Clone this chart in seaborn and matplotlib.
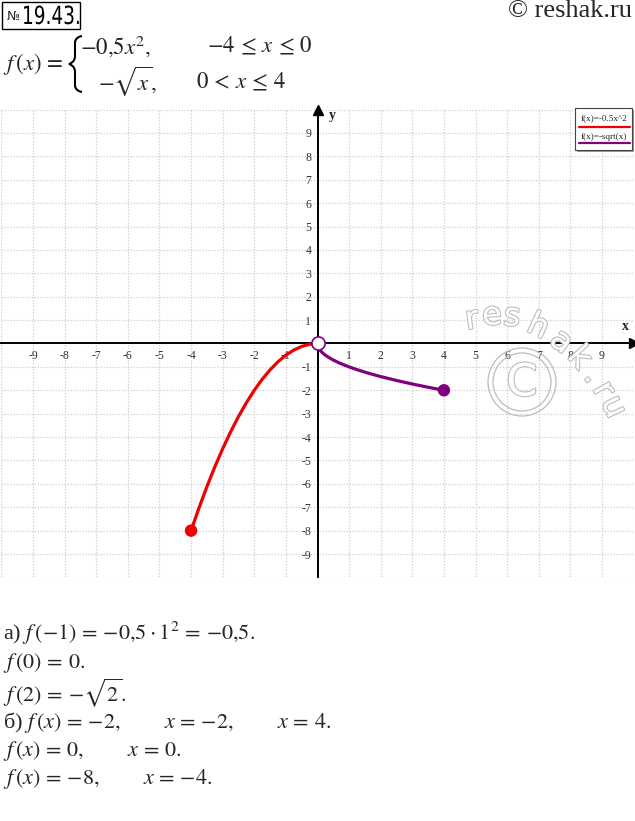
import numpy as np
import pandas as pd
import matplotlib
matplotlib.use("Agg")
import matplotlib.pyplot as plt
import matplotlib.patheffects as pe
from matplotlib.patches import Rectangle, Circle, PathPatch
from matplotlib.path import Path
from matplotlib.textpath import TextPath
from matplotlib.font_manager import FontProperties
from matplotlib.transforms import Affine2D, IdentityTransform
import seaborn as sns

# ---- data ----
x_left = [-4.0, -3.75, -3.5, -3.25, -3.0, -2.75, -2.5, -2.25, -2.0, -1.75, -1.5,
          -1.25, -1.0, -0.75, -0.5, -0.25, 0.0]
y_left = [-8.0, -7.031, -6.125, -5.281, -4.5, -3.781, -3.125, -2.531, -2.0, -1.531,
          -1.125, -0.781, -0.5, -0.281, -0.125, -0.031, 0.0]
x_right = [0.0, 0.01, 0.03, 0.06, 0.1, 0.15, 0.2, 0.3, 0.4, 0.5, 0.65, 0.8, 1.0,
           1.25, 1.5, 1.75, 2.0, 2.5, 3.0, 3.5, 4.0]
y_right = [0.0, -0.1, -0.173, -0.245, -0.316, -0.387, -0.447, -0.548, -0.632, -0.707,
           -0.806, -0.894, -1.0, -1.118, -1.225, -1.323, -1.414, -1.581, -1.732,
           -1.871, -2.0]
end_x = [-4, 4]
end_y = [-8, -2]
end_group = ["left", "right"]
open_x = [0]
open_y = [0]
ticks = [-9, -8, -7, -6, -5, -4, -3, -2, -1, 1, 2, 3, 4, 5, 6, 7, 8, 9]
legend_labels = ["f(x)=-0.5x^2", "f(x)=-sqrt(x)"]

RED = "#f00000"
PURPLE = "#800080"

sns.set_style("white")
plt.rcParams["mathtext.fontset"] = "stix"
plt.rcParams["font.family"] = ["Liberation Serif", "DejaVu Serif"]

W, H = 635, 821
fig = plt.figure(figsize=(W / 100, H / 100), dpi=100)

def fx(px):
    return px / W

def fy(py):
    return 1 - py / H

ax = fig.add_axes([1.4 / W, 1 - 577.4 / H, 632.2 / W, 467.8 / H])
ax.set_xlim(-10, 10)
ax.set_ylim(-10, 10)
ax.set_facecolor("white")

# grid
for t in range(-10, 11):
    ax.axvline(t, color="#d4d4d4", lw=0.9, ls=(0, (1.2, 1.2)), zorder=0)
    ax.axhline(t, color="#d4d4d4", lw=0.9, ls=(0, (1.2, 1.2)), zorder=0)

# spines at zero
for s in ["top", "right"]:
    ax.spines[s].set_visible(False)
ax.spines["left"].set_position(("data", 0))
ax.spines["bottom"].set_position(("data", 0))
for s in ["left", "bottom"]:
    ax.spines[s].set_linewidth(1.4)
    ax.spines[s].set_color("black")
ax.plot(1, 0, ">k", transform=ax.get_yaxis_transform(), clip_on=False, ms=7)
ax.plot(0, 1, "^k", transform=ax.get_xaxis_transform(), clip_on=False, ms=7)

ax.set_xticks(ticks)
ax.set_yticks(ticks)
ax.set_xticklabels([str(t) for t in ticks])
ax.set_yticklabels([str(t) for t in ticks])
ax.tick_params(axis="both", direction="inout", length=7, width=1, color="black",
               labelsize=8.5, labelcolor="#333333", pad=1)

# curves
df_l = pd.DataFrame({"x": x_left, "y": y_left})
df_r = pd.DataFrame({"x": x_right, "y": y_right})
sns.lineplot(data=df_l, x="x", y="y", color=RED, lw=2.3, sort=False, ax=ax, zorder=3)
sns.lineplot(data=df_r, x="x", y="y", color=PURPLE, lw=2.3, sort=False, ax=ax, zorder=3)
df_e = pd.DataFrame({"x": end_x, "y": end_y, "g": end_group})
sns.scatterplot(data=df_e, x="x", y="y", hue="g", palette=[RED, PURPLE], s=80,
                edgecolor="none", legend=False, ax=ax, zorder=4)
sns.scatterplot(x=open_x, y=open_y, s=90, facecolor="white", edgecolor=PURPLE,
                linewidth=1.2, ax=ax, zorder=5, legend=False)
ax.set_xlabel("")
ax.set_ylabel("")

ax.text(9.75, 0.45, "x", fontsize=10, fontweight="bold", ha="center", va="bottom")
ax.text(0.35, 9.75, "y", fontsize=10, fontweight="bold", ha="left", va="center")

# legend box (manual)
fig.patches.append(Rectangle((fx(577), fy(152)), fx(634) - fx(577), fy(110) - fy(152),
                             transform=fig.transFigure, facecolor="#999999",
                             edgecolor="none", zorder=5))
fig.patches.append(Rectangle((fx(575), fy(150)), fx(632) - fx(575), fy(108) - fy(150),
                             transform=fig.transFigure, facecolor="white",
                             edgecolor="#444444", lw=0.8, zorder=6))
fig.text(fx(604), fy(118), legend_labels[0], fontsize=6.6, ha="center", va="center",
         color="#222222", zorder=7)
fig.add_artist(plt.Line2D([fx(579), fx(630)], [fy(127), fy(127)], color=RED, lw=1.6,
                          transform=fig.transFigure, zorder=7))
fig.text(fx(604), fy(137), legend_labels[1], fontsize=6.6, ha="center", va="center",
         color="#222222", zorder=7)
fig.add_artist(plt.Line2D([fx(579), fx(630)], [fy(143.5), fy(143.5)], color=PURPLE,
                          lw=1.6, transform=fig.transFigure, zorder=7))

# watermark
wm_color = "#bdbdbd"
letters = [("r", 472, 320, 8), ("e", 492, 316, 4), ("s", 512, 317, -6),
           ("h", 538, 327, -25), ("a", 561, 342, -38), ("k", 579, 358, -48),
           (".", 593, 376, -55), ("r", 603, 390, -60), ("u", 613, 407, -65)]
for ch, px, py, rot in letters:
    fig.text(fx(px), fy(py), ch, fontsize=23, family="DejaVu Sans", color="white",
             rotation=rot, ha="center", va="center", zorder=8,
             path_effects=[pe.withStroke(linewidth=1.6, foreground=wm_color)])
for r in (34, 29):
    fig.patches.append(Circle((522, H - 382), r, transform=IdentityTransform(),
                              facecolor="none", edgecolor=wm_color, lw=0.9, zorder=8))
fig.text(fx(522), fy(383), "C", fontsize=32, family="DejaVu Sans", color="white",
         ha="center", va="center", zorder=8,
         path_effects=[pe.withStroke(linewidth=1.6, foreground=wm_color)])

# header
fig.text(fx(7), fy(17), "№", fontsize=9, family="DejaVu Sans", ha="left", va="center")
tp = TextPath((0, 0), "19.43.", size=25, prop=FontProperties(family="DejaVu Sans"))
tr = Affine2D().scale(0.74, 1.0).translate(22, H - 24)
fig.patches.append(PathPatch(tr.transform_path(tp), transform=IdentityTransform(),
                             facecolor="black", edgecolor="none"))
fig.patches.append(Rectangle((fx(2), fy(29)), fx(80) - fx(2), fy(2) - fy(29),
                             transform=fig.transFigure, facecolor="none",
                             edgecolor="black", lw=1.0))
fig.text(fx(632), fy(11), "© reshak.ru", fontsize=19, ha="right", va="center")

# formula
FS = 16.5
fig.text(fx(3), fy(64), r"$f\,(x)\,=\,$", fontsize=FS, ha="left", va="center")
bx, by = 74, 64
brace = [(bx + 8, by - 28), (bx + 2, by - 27), (bx + 1, by - 22), (bx + 1, by - 16),
         (bx + 1, by - 8), (bx + 1, by - 2), (bx - 5, by),
         (bx + 1, by + 2), (bx + 1, by + 8), (bx + 1, by + 16),
         (bx + 1, by + 22), (bx + 2, by + 27), (bx + 8, by + 28)]
codes = [Path.MOVETO, Path.CURVE3, Path.CURVE3, Path.LINETO,
         Path.LINETO, Path.CURVE3, Path.CURVE3,
         Path.CURVE3, Path.CURVE3, Path.LINETO,
         Path.LINETO, Path.CURVE3, Path.CURVE3]
verts = [(x, H - y) for x, y in brace]
fig.patches.append(PathPatch(Path(verts, codes), transform=IdentityTransform(),
                             facecolor="none", edgecolor="black", lw=1.5))
fig.text(fx(80), fy(46), r"$-0{,}5x^{2},$", fontsize=FS, ha="left", va="center")
fig.text(fx(207), fy(46), r"$-4\,\leq\,x\,\leq\,0$", fontsize=FS, ha="left", va="center")
fig.text(fx(98), fy(82), r"$-\sqrt{x},$", fontsize=FS, ha="left", va="center")
fig.text(fx(196), fy(82), r"$0\,<\,x\,\leq\,4$", fontsize=FS, ha="left", va="center")

# answers
FA = 16
GAP = "\\qquad\\;\\;"
lines = [
    (633, "а) $f\\,(-1)\\,=\\,{-}0{,}5 \\cdot 1^{2}\\,=\\,{-}0{,}5.$"),
    (663, "$f\\,(0)\\,=\\,0.$"),
    (693, "$f\\,(2)\\,=\\,{-}\\sqrt{2}.$"),
    (722, "б) $f\\,(x)\\,=\\,{-}2," + GAP + "x\\,=\\,{-}2," + GAP + "x\\,=\\,4.$"),
    (751, "$f\\,(x)\\,=\\,0," + GAP + "x\\,=\\,0.$"),
    (779, "$f\\,(x)\\,=\\,{-}8," + GAP + "x\\,=\\,{-}4.$"),
]
for py, s in lines:
    fig.text(fx(3), fy(py), s, fontsize=FA, ha="left", va="center")

fig.savefig("out.png", dpi=100)
